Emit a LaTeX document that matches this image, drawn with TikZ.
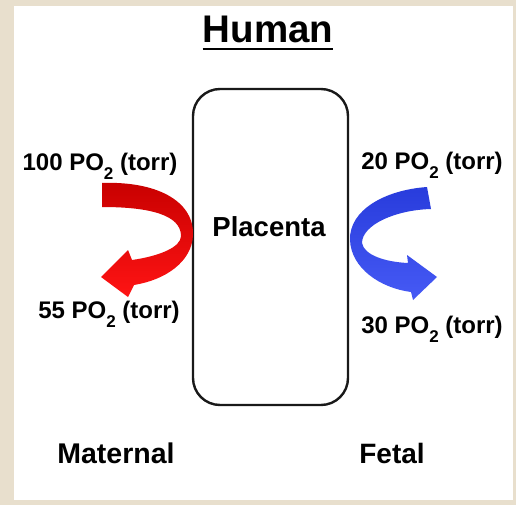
\documentclass[tikz,border=0pt]{standalone}
\usepackage{fontspec}
\setmainfont{Liberation Sans}
\definecolor{bgbeige}{RGB}{232,223,205}
\definecolor{redtop}{RGB}{200,0,0}
\definecolor{redbot}{RGB}{255,20,20}
\definecolor{bluetop}{RGB}{40,60,220}
\definecolor{bluebot}{RGB}{70,90,245}
\newcommand{\subtwo}{\raisebox{-9pt}{\fontsize{17}{17}\selectfont 2}}
\tikzset{
  lbl/.style={anchor=base, inner sep=0pt, font=\bfseries\fontsize{24}{26}\selectfont},
  big/.style={anchor=base, inner sep=0pt, font=\bfseries\fontsize{27.5}{30}\selectfont},
  ttl/.style={anchor=base, inner sep=0pt, font=\bfseries\fontsize{38.5}{42}\selectfont},
  placbox/.style={draw=black!90, line width=2.4pt, rounded corners=27pt},
  redarrow/.style={top color=redtop, bottom color=redbot, draw=none},
  bluearrow/.style={top color=bluetop, bottom color=bluebot, draw=none}
}
\begin{document}
\begin{tikzpicture}[x=1pt,y=-1pt]
\useasboundingbox (0,0) rectangle (516,505);
\fill[bgbeige] (0,0) rectangle (516,505);
\fill[white] (14,6) rectangle (513,500);

% placenta box
\draw[placbox] (193,89) rectangle (348,405);
\node[big] (plac) at (269,236) {Placenta};

% title
\node[ttl] (title) at (268,43) {Human};
\draw[line width=2.8pt] ([yshift=-6pt]title.base west) -- ([yshift=-6pt]title.base east);

% labels
\node[lbl] (m100) at (100,171) {100 PO\subtwo{} (torr)};
\node[lbl] (m55) at (109,318) {55 PO\subtwo{} (torr)};
\node[lbl] (f20) at (432,170) {20 PO\subtwo{} (torr)};
\node[lbl] (f30) at (432,333) {30 PO\subtwo{} (torr)};
\node[big, font=\bfseries\fontsize{28.5}{30}\selectfont] (mat) at (116,463) {Maternal};
\node[big, font=\bfseries\fontsize{28}{30}\selectfont] (fet) at (392,463) {Fetal};

% red arrow
\path[redarrow] (102,183) .. controls (155,181) and (194,200) .. (193,235)
  .. controls (192,262) and (165,280) .. (134,285)
  -- (128,297) -- (101,277) -- (128,250) -- (132,260)
  .. controls (160,256) and (181,247) .. (181,236)
  .. controls (181,215) and (150,207) .. (102,207) -- cycle;

% blue arrow
\path[bluearrow] (427,187) .. controls (385,190) and (349,210) .. (350,240)
  .. controls (351,268) and (380,288) .. (411,292)
  -- (413,300) -- (437,277) -- (407,255) -- (408,263)
  .. controls (385,262) and (364,255) .. (362,243)
  .. controls (362,225) and (395,210) .. (431,209) -- cycle;
\end{tikzpicture}
\end{document}
